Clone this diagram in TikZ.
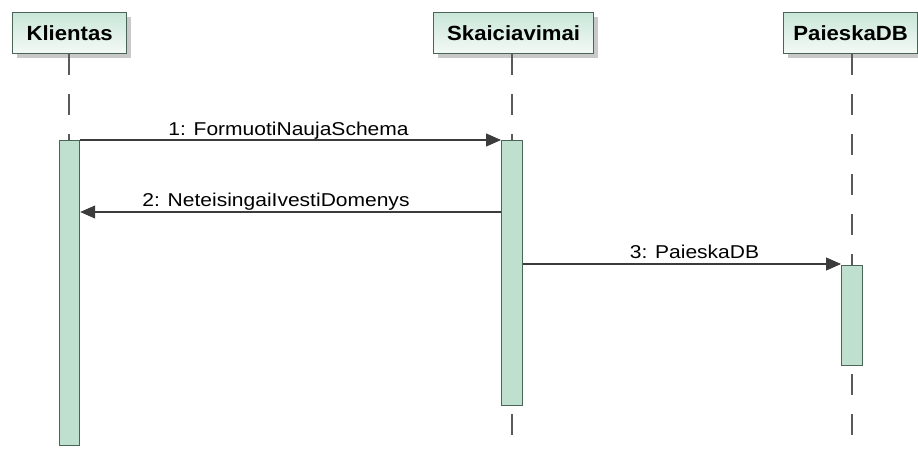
\documentclass[tikz,border=0pt]{standalone}
\usepackage{fontspec}
\newfontfamily\msgfont{Liberation Sans}[FakeStretch=1.13]
\newfontfamily\hdrfont{Liberation Sans}[FakeStretch=1.08]
\usetikzlibrary{arrows.meta,calc,shadows}
\definecolor{hdrtop}{HTML}{C9E6D8}
\definecolor{hdrbot}{HTML}{F4FAF7}
\definecolor{bordc}{HTML}{4B6458}
\definecolor{actfill}{HTML}{BFE0CE}
\definecolor{linec}{HTML}{3C3C3C}
\definecolor{lifec}{HTML}{5A5A5A}
\tikzset{
  hdrbox/.style={draw=bordc, line width=1.3pt, top color=hdrtop, bottom color=hdrbot,
    minimum height=41pt, inner sep=0pt, anchor=north west,
    font=\hdrfont\bfseries\fontsize{20.5}{24}\selectfont,
    drop shadow={shadow xshift=4pt, shadow yshift=-4pt, fill=gray!60, opacity=0.7}},
  actbox/.style={draw=bordc, line width=1.2pt, fill=actfill, inner sep=0pt, anchor=north west},
  lifeline/.style={draw=lifec, line width=1.5pt, dash pattern=on 21pt off 19pt},
  msg/.style={draw=linec, line width=1.1pt, -{Triangle[length=15pt,width=13pt]}},
  msglabel/.style={font=\msgfont\fontsize{18.6}{22}\selectfont, text=black, inner sep=0pt, anchor=base}
}
\begin{document}
\begin{tikzpicture}[x=1pt,y=-1pt]
\useasboundingbox (0,0) rectangle (918,450);
% lifelines
\coordinate (kl) at (69,445);
\coordinate (sl) at (512,445);
\coordinate (pl) at (852,445);
% header boxes
\node[hdrbox, minimum width=114pt] (kh) at (12,12) {Klientas};
\node[hdrbox, minimum width=160pt] (sh) at (433,12) {Skaiciavimai};
\node[hdrbox, minimum width=134pt] (ph) at (783,12) {PaieskaDB};
\draw[lifeline] (kh.south -| kl) -- (69,140);
\draw[lifeline] (sh.south -| sl) -- (sl);
\draw[lifeline] (ph.south -| pl) -- (pl);
% activations
\node[actbox, minimum width=20pt, minimum height=305pt] (ka) at (59,140) {};
\node[actbox, minimum width=21pt, minimum height=265pt] (sa) at (501,140) {};
\node[actbox, minimum width=21pt, minimum height=100pt] (pa) at (841,265) {};
% messages
\draw[msg] (ka.north east) -- (sa.north west);
\node[msglabel] (l1) at (288.5,135) {1: FormuotiNaujaSchema};
\path (sa.north west) ++(0,72) coordinate (m2);
\draw[msg] (m2) -- (m2 -| ka.east);
\node[msglabel] (l2) at (276,206) {2: NeteisingaiIvestiDomenys};
\path (sa.north east) ++(0,124) coordinate (m3);
\draw[msg] (m3) -- (m3 -| pa.west);
\node[msglabel] (l3) at (694.5,258) {3: PaieskaDB};
\end{tikzpicture}
\end{document}
